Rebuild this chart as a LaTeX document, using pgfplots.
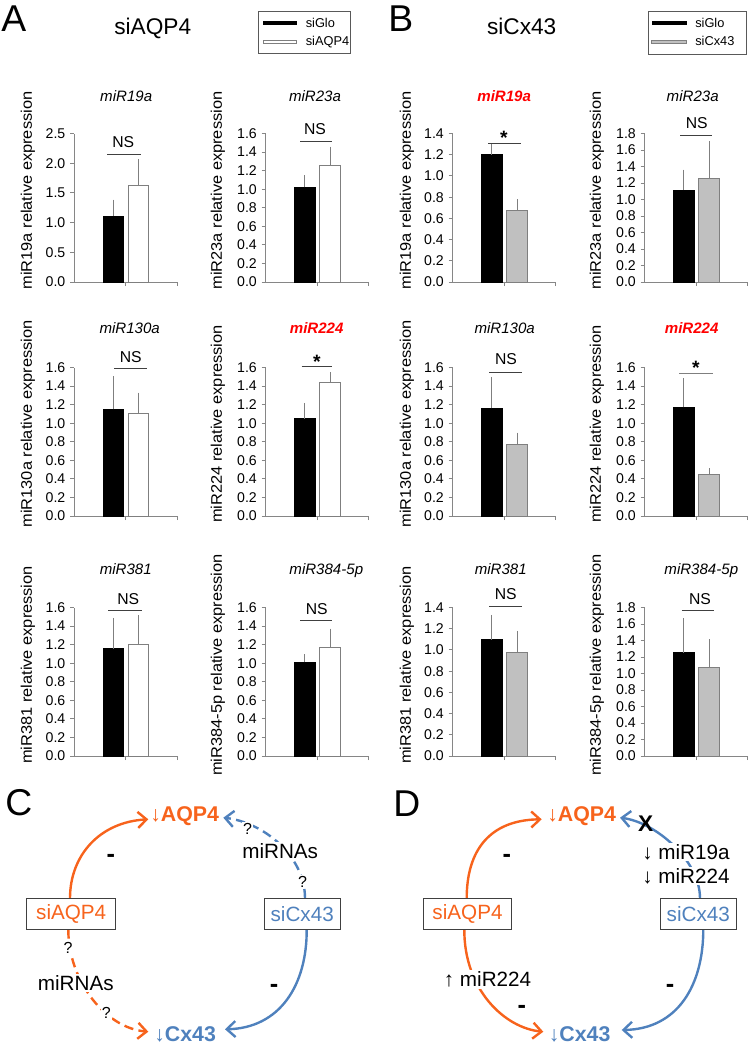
\documentclass[border=0pt]{standalone}
\usepackage{pgfplots}
\pgfplotsset{compat=1.18}
\usepackage{fontspec}
\setmainfont{Liberation Sans}
\newfontfamily\ylabf{Liberation Sans}[FakeStretch=1.07]
\usetikzlibrary{arrows.meta}
\definecolor{axgray}{HTML}{868686}
\definecolor{bargray}{HTML}{C0C0C0}
\definecolor{edgegray}{HTML}{7F7F7F}
\definecolor{myorange}{HTML}{F7631C}
\definecolor{myblue}{HTML}{4F81BD}
\definecolor{myred}{HTML}{FF0000}

\pgfplotsset{
  mychart/.style={
    scale only axis, width=77.25pt, height=111.375pt, anchor=south west,
    xmin=0, xmax=103, ymin=0,
    axis lines*=left,
    axis line style={draw=axgray, line width=0.75pt},
    xtick={51.5,103}, xticklabels={},
    tick align=outside, major tick length=3pt,
    tick style={draw=axgray, line width=0.75pt},
    /pgf/number format/assume math mode=true,
    yticklabel style={font=\fontsize{10.6}{12}\selectfont, /pgf/number format/.cd, fixed, fixed zerofill, precision=1},
    clip=false,
    error bars/y dir=plus, error bars/y explicit,
    error bars/error bar style={draw=edgegray, line width=0.75pt},
    error bars/error mark options={draw=edgegray, line width=0.75pt, mark size=2pt},
  },
  blk/.style={ybar, bar width=20.5, bar shift=0, fill=black, draw=black, line width=0.75pt},
  wht/.style={ybar, bar width=20.5, bar shift=0, fill=white, draw=edgegray, line width=0.75pt},
  gry/.style={ybar, bar width=20.5, bar shift=0, fill=bargray, draw=edgegray, line width=0.75pt},
}
\tikzset{
  ttl/.style={anchor=base, inner sep=0, font=\itshape\fontsize{11.3}{13}\selectfont},
  rttl/.style={anchor=base, inner sep=0, text=myred, font=\bfseries\itshape\fontsize{11.3}{13}\selectfont},
  ns/.style={inner sep=0, font=\fontsize{11.8}{13}\selectfont},
  star/.style={anchor=base, inner sep=0, font=\bfseries\fontsize{14.5}{16}\selectfont},
  yl/.style={rotate=90, inner sep=0, font=\ylabf\fontsize{11.5}{13}\selectfont},
  sigline/.style={draw=black!75, line width=0.75pt},
  leg/.style={anchor=base west, inner sep=0, font=\fontsize{9.6}{11}\selectfont},
}

\begin{document}
\begin{tikzpicture}[x=0.75pt, y=-0.75pt]
\useasboundingbox (0,0) rectangle (750,1050);

% ---------------- Panel A headings ----------------
\node[anchor=base west, inner sep=0, font=\fontsize{28}{30}\selectfont] at (1,31) {A};
\node[anchor=base, inner sep=0, font=\fontsize{17}{19}\selectfont] at (152.7,34.3) {siAQP4};
\draw[draw=black!65, line width=0.75pt] (258.3,11.7) rectangle (350,53.3);
\fill[black] (263.3,21.3) rectangle (296.7,25.3);
\draw[edgegray, fill=white, line width=0.6pt] (263.3,40.2) rectangle (296.7,43.3);
\node[leg] at (305.5,27.8) {siGlo};
\node[leg] at (305.5,45.3) {siAQP4};

% ---------------- Panel B headings ----------------
\node[anchor=base west, inner sep=0, font=\fontsize{28}{30}\selectfont] at (388,31) {B};
\node[anchor=base, inner sep=0, font=\fontsize{17}{19}\selectfont] at (521.7,34.3) {siCx43};
\draw[draw=black!65, line width=0.75pt] (648.3,11.7) rectangle (746.7,54);
\fill[black] (651.7,21.3) rectangle (686.7,25.3);
\draw[edgegray, fill=bargray, line width=0.6pt] (651.7,40.2) rectangle (686.7,43.5);
\node[leg] at (695,27.8) {siGlo};
\node[leg] at (695,45.3) {siCx43};

% ================= ROW 1 =================
% A1 miR19a
\begin{axis}[mychart, at={(74*0.75pt,-282*0.75pt)}, ymax=2.5, ytick={0,0.5,1,1.5,2,2.5}]
\addplot[blk] coordinates {(39.3,1.11) +- (0,0.23)};
\addplot[wht] coordinates {(64.5,1.63) +- (0,0.39)};
\end{axis}
% A2 miR23a
\begin{axis}[mychart, at={(265.5*0.75pt,-282*0.75pt)}, ymax=1.6, ytick={0,0.2,0.4,0.6,0.8,1,1.2,1.4,1.6}]
\addplot[blk] coordinates {(39.3,1.02) +- (0,0.10)};
\addplot[wht] coordinates {(64.5,1.26) +- (0,0.17)};
\end{axis}
% B1 miR19a
\begin{axis}[mychart, at={(452.5*0.75pt,-282*0.75pt)}, ymax=1.4, ytick={0,0.2,0.4,0.6,0.8,1,1.2,1.4}]
\addplot[blk] coordinates {(39.3,1.20) +- (0,0.075)};
\addplot[gry] coordinates {(64.5,0.675) +- (0,0.08)};
\end{axis}
% B2 miR23a
\begin{axis}[mychart, at={(644.5*0.75pt,-282*0.75pt)}, ymax=1.8, ytick={0,0.2,0.4,0.6,0.8,1,1.2,1.4,1.6,1.8}]
\addplot[blk] coordinates {(39.3,1.115) +- (0,0.215)};
\addplot[gry] coordinates {(64.5,1.255) +- (0,0.42)};
\end{axis}

% ================= ROW 2 =================
% A3 miR130a
\begin{axis}[mychart, at={(74*0.75pt,-516*0.75pt)}, ymax=1.6, ytick={0,0.2,0.4,0.6,0.8,1,1.2,1.4,1.6}]
\addplot[blk] coordinates {(39.3,1.15) +- (0,0.325)};
\addplot[wht] coordinates {(64.5,1.10) +- (0,0.20)};
\end{axis}
% A4 miR224
\begin{axis}[mychart, at={(265.5*0.75pt,-516*0.75pt)}, ymax=1.6, ytick={0,0.2,0.4,0.6,0.8,1,1.2,1.4,1.6}]
\addplot[blk] coordinates {(39.3,1.05) +- (0,0.14)};
\addplot[wht] coordinates {(64.5,1.435) +- (0,0.085)};
\end{axis}
% B3 miR130a
\begin{axis}[mychart, at={(452.5*0.75pt,-516*0.75pt)}, ymax=1.6, ytick={0,0.2,0.4,0.6,0.8,1,1.2,1.4,1.6}]
\addplot[blk] coordinates {(39.3,1.16) +- (0,0.31)};
\addplot[gry] coordinates {(64.5,0.77) +- (0,0.10)};
\end{axis}
% B4 miR224
\begin{axis}[mychart, at={(644.5*0.75pt,-516*0.75pt)}, ymax=1.6, ytick={0,0.2,0.4,0.6,0.8,1,1.2,1.4,1.6}]
\addplot[blk] coordinates {(39.3,1.17) +- (0,0.285)};
\addplot[gry] coordinates {(64.5,0.45) +- (0,0.035)};
\end{axis}

% ================= ROW 3 =================
% A5 miR381
\begin{axis}[mychart, at={(74*0.75pt,-756*0.75pt)}, ymax=1.6, ytick={0,0.2,0.4,0.6,0.8,1,1.2,1.4,1.6}]
\addplot[blk] coordinates {(39.3,1.155) +- (0,0.305)};
\addplot[wht] coordinates {(64.5,1.20) +- (0,0.29)};
\end{axis}
% A6 miR384-5p
\begin{axis}[mychart, at={(265.5*0.75pt,-756*0.75pt)}, ymax=1.6, ytick={0,0.2,0.4,0.6,0.8,1,1.2,1.4,1.6}]
\addplot[blk] coordinates {(39.3,1.01) +- (0,0.055)};
\addplot[wht] coordinates {(64.5,1.165) +- (0,0.18)};
\end{axis}
% B5 miR381
\begin{axis}[mychart, at={(452.5*0.75pt,-756*0.75pt)}, ymax=1.4, ytick={0,0.2,0.4,0.6,0.8,1,1.2,1.4}]
\addplot[blk] coordinates {(39.3,1.095) +- (0,0.21)};
\addplot[gry] coordinates {(64.5,0.98) +- (0,0.175)};
\end{axis}
% B6 miR384-5p
\begin{axis}[mychart, at={(644.5*0.75pt,-756*0.75pt)}, ymax=1.8, ytick={0,0.2,0.4,0.6,0.8,1,1.2,1.4,1.6,1.8}]
\addplot[blk] coordinates {(39.3,1.25) +- (0,0.39)};
\addplot[gry] coordinates {(64.5,1.07) +- (0,0.315)};
\end{axis}

% ---------------- chart titles ----------------
\node[ttl] at (126.2,101.7) {miR19a};
\node[ttl] at (315,101.7) {miR23a};
\node[rttl] at (504.2,101.7) {miR19a};
\node[ttl] at (692.7,101.7) {miR23a};
\node[ttl] at (129.7,333.3) {miR130a};
\node[rttl] at (316.7,333.3) {miR224};
\node[ttl] at (504.7,333.3) {miR130a};
\node[rttl] at (691.7,333.3) {miR224};
\node[ttl] at (125.8,574) {miR381};
\node[ttl] at (326.3,574) {miR384-5p};
\node[ttl] at (500.8,574) {miR381};
\node[ttl] at (701.3,574) {miR384-5p};

% ---------------- y labels ----------------
\node[yl] at (28,190.5) {miR19a relative expression};
\node[yl] at (218,190.5) {miR23a relative expression};
\node[yl] at (407,190.5) {miR19a relative expression};
\node[yl] at (597,190.5) {miR23a relative expression};
\node[yl] at (28,424) {miR130a relative expression};
\node[yl] at (218,424) {miR224 relative expression};
\node[yl] at (407,424) {miR130a relative expression};
\node[yl] at (597,424) {miR224 relative expression};
\node[yl] at (28,665) {miR381 relative expression};
\node[yl] at (218,665) {miR384-5p relative expression};
\node[yl] at (407,665) {miR381 relative expression};
\node[yl] at (597,665) {miR384-5p relative expression};

% ---------------- significance ----------------
\node[ns] at (123.3,142.5) {NS}; \draw[sigline] (107.3,154.3) -- (140.5,154.3);
\node[ns] at (315,129) {NS}; \draw[sigline] (300,141) -- (332,141);
\node[star] at (503.8,144.5) {*}; \draw[sigline] (488,143.3) -- (521,143.3);
\node[ns] at (696.7,123.3) {NS}; \draw[sigline] (680,135.7) -- (712,135.7);
\node[ns] at (130.7,356.7) {NS}; \draw[sigline] (114,368.3) -- (147,368.3);
\node[star] at (317,368) {*}; \draw[sigline] (301.7,366.7) -- (331.7,366.7);
\node[ns] at (506,359.3) {NS}; \draw[sigline] (489,372.3) -- (521.7,372.3);
\node[star] at (695.8,374.5) {*}; \draw[draw=edgegray, line width=0.75pt] (679.3,373.3) -- (712.7,373.3);
\node[ns] at (128.3,599.3) {NS}; \draw[sigline] (108.3,610.7) -- (141.7,610.7);
\node[ns] at (316.7,609.3) {NS}; \draw[sigline] (300,620.7) -- (332.3,620.7);
\node[ns] at (505.7,594) {NS}; \draw[sigline] (489.3,606.7) -- (521.7,606.7);
\node[ns] at (700,599) {NS}; \draw[sigline] (681.7,610.7) -- (714.3,610.7);

% ================= Panel C =================
\tikzset{
  curv/.style={line width=1.8pt, -{Straight Barb[length=6.5pt,width=12pt]}},
  dsh/.style={dash pattern=on 7pt off 4pt},
  boxt/.style={inner sep=0, font=\fontsize{15.5}{17}\selectfont},
  midt/.style={anchor=base west, fill=white, inner sep=1pt, font=\fontsize{15.5}{17}\selectfont},
  qm/.style={fill=white, inner sep=0.8pt, font=\fontsize{12}{14}\selectfont},
  mns/.style={anchor=base, inner sep=0, font=\bfseries\fontsize{19}{21}\selectfont},
}
\node[anchor=base west, inner sep=0, font=\fontsize{28}{30}\selectfont] at (5,815) {C};
\draw[myorange, curv] (70,898.3) .. controls (70,855) and (100,822) .. (148.3,819.3);
\draw[myblue, curv, dsh] (305,898.3) .. controls (305,855) and (262,822) .. (223.3,817.7);
\draw[myorange, curv, dsh] (68.3,929.3) .. controls (68,980) and (105,1028) .. (148.3,1031.7);
\draw[myblue, curv] (306.7,929.3) .. controls (307,985) and (280,1028) .. (225,1029.3);
\node[anchor=base west, inner sep=0, text=myorange, font=\fontsize{16}{18}\selectfont] at (150,821.7) {↓\textbf{AQP4}};
\node[anchor=base west, inner sep=0, text=myblue, font=\fontsize{16}{18}\selectfont] at (154,1041.7) {↓\textbf{Cx43}};
\draw[draw=black!75, line width=0.75pt, fill=white] (26.7,898.3) rectangle (115.7,929.3);
\node[boxt, text=myorange] at (71.2,913.8) {siAQP4};
\draw[draw=black!75, line width=0.75pt, fill=white] (264.3,898.3) rectangle (340,929.3);
\node[boxt, text=myblue] at (302.2,913.8) {siCx43};
\node[qm] at (247.5,829) {?};
\node[midt] at (240.7,858.3) {miRNAs};
\node[qm] at (302.5,881.7) {?};
\node[qm] at (68,948.3) {?};
\node[midt] at (36.3,990) {miRNAs};
\node[qm] at (106.2,1013) {?};
\node[mns] at (110.8,862) {-};
\node[mns] at (274,992) {-};

% ================= Panel D =================
\node[anchor=base west, inner sep=0, font=\fontsize{28}{30}\selectfont] at (393,816.7) {D};
\draw[myorange, curv] (466.7,898.3) .. controls (466.7,850) and (490,820) .. (541.7,819.3);
\draw[myblue, curv] (700,898.3) .. controls (700,860) and (655,822) .. (620,817.7);
\draw[myblue, curv] (703.3,929.3) .. controls (703.3,985) and (678,1029) .. (621.7,1030);
\draw[myorange, curv] (464.3,929.3) .. controls (464,990) and (505,1028) .. (543.3,1031.7);
\node[anchor=base west, inner sep=0, text=myorange, font=\fontsize{16}{18}\selectfont] at (547,821.7) {↓\textbf{AQP4}};
\node[anchor=base west, inner sep=0, text=myblue, font=\fontsize{16}{18}\selectfont] at (548.5,1041.7) {↓\textbf{Cx43}};
\draw[draw=black!75, line width=0.75pt, fill=white] (423.3,898.3) rectangle (511.7,929.3);
\node[boxt, text=myorange] at (467.5,913.8) {siAQP4};
\draw[draw=black!75, line width=0.75pt, fill=white] (660,898.3) rectangle (736.7,929.3);
\node[boxt, text=myblue] at (698.3,913.8) {siCx43};
\node[midt] at (640.7,859.3) {↓ miR19a};
\node[midt] at (640.7,883.3) {↓ miR224};
\node[midt] at (442.3,986.7) {↑ miR224};
\node[inner sep=0, font=\bfseries\fontsize{17}{19}\selectfont] at (645.7,824) {X};
\node[mns] at (506.8,862) {-};
\node[mns] at (670.2,992) {-};
\node[mns] at (521.8,1013.7) {-};
\end{tikzpicture}
\end{document}
